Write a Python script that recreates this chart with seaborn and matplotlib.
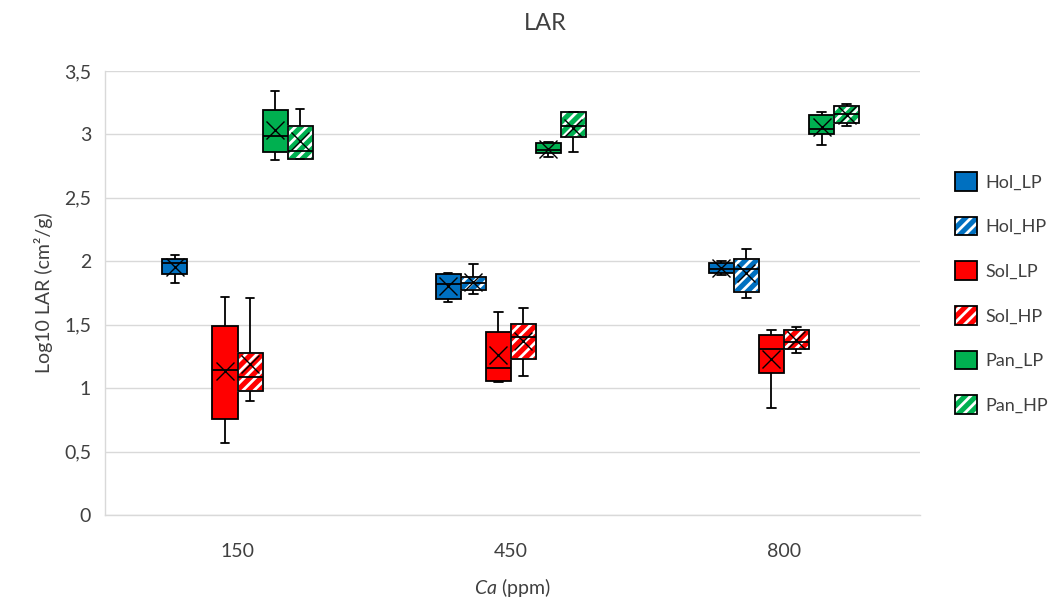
import numpy as np
import pandas as pd
import matplotlib
matplotlib.use("Agg")
import matplotlib.pyplot as plt
import matplotlib.patches as mpatches
from matplotlib.legend_handler import HandlerTuple
import seaborn as sns

# five-number summaries: [min, q1, median, q3, max]
ca_levels = ["150", "450", "800"]
series_names = ["Hol_LP", "Hol_HP", "Sol_LP", "Sol_HP", "Pan_LP", "Pan_HP"]
hol_lp = [[1.83, 1.90, 1.99, 2.02, 2.05], [1.68, 1.70, 1.82, 1.90, 1.91], [1.89, 1.91, 1.94, 1.99, 2.00]]
hol_hp = [None, [1.74, 1.77, 1.83, 1.88, 1.98], [1.71, 1.755, 1.94, 2.02, 2.10]]
sol_lp = [[0.57, 0.76, 1.14, 1.49, 1.72], [1.045, 1.06, 1.155, 1.44, 1.60], [0.84, 1.12, 1.31, 1.42, 1.46]]
sol_hp = [[0.90, 0.98, 1.09, 1.28, 1.71], [1.095, 1.23, 1.40, 1.505, 1.63], [1.28, 1.31, 1.36, 1.46, 1.48]]
pan_lp = [[2.80, 2.86, 2.99, 3.19, 3.34], [2.82, 2.85, 2.88, 2.93, 2.94], [2.92, 3.00, 3.04, 3.15, 3.18]]
pan_hp = [[2.81, 2.81, 2.87, 3.07, 3.20], [2.86, 2.98, 3.07, 3.18, 3.18], [3.065, 3.09, 3.16, 3.225, 3.24]]
series_data = [hol_lp, hol_hp, sol_lp, sol_hp, pan_lp, pan_hp]
colors = ["#0070C0", "#0070C0", "#FF0000", "#FF0000", "#00B050", "#00B050"]
hatched = [False, True, False, True, False, True]
yticks = [0, 0.5, 1, 1.5, 2, 2.5, 3, 3.5]
ytick_labels = ["0", "0,5", "1", "1,5", "2", "2,5", "3", "3,5"]

rows = []
for name, vals in zip(series_names, series_data):
    for ca, summ in zip(ca_levels, vals):
        if summ is None:
            continue
        for v in summ:
            rows.append({"Ca": ca, "series": name, "value": v})
df = pd.DataFrame(rows)

sns.set_style("white")
plt.rcParams["font.family"] = ["Lato", "DejaVu Sans"]
plt.rcParams["mathtext.fontset"] = "custom"
plt.rcParams["mathtext.it"] = "Lato:italic"
plt.rcParams["mathtext.rm"] = "Lato"
plt.rcParams["hatch.linewidth"] = 2.0

fig = plt.figure(figsize=(10.54, 6.05), dpi=100)
ax = fig.add_axes([105 / 1054, 1 - 515 / 605, 815 / 1054, 444 / 605])

sns.boxplot(data=df, x="Ca", y="value", hue="series", order=ca_levels,
            hue_order=series_names, palette=colors, saturation=1,
            width=0.55, gap=0, dodge=True, whis=(0, 100), showmeans=True,
            linecolor="black", linewidth=1.3, legend=False, ax=ax,
            meanprops=dict(marker="x", markeredgecolor="black",
                           markerfacecolor="black", markersize=13,
                           markeredgewidth=1.0))

for i, cont in enumerate(ax.containers):
    for cap in cont.caps:
        xd = cap.get_xdata()
        xc = np.mean(xd)
        cap.set_xdata([xc - 0.016, xc + 0.016])
    if hatched[i]:
        for box in cont.boxes:
            box.set_hatch("///")
            box.set_edgecolor("white")
            outline = mpatches.PathPatch(box.get_path(), transform=box.get_transform(),
                                         fill=False, edgecolor="black", linewidth=1.3,
                                         zorder=box.get_zorder() + 0.1)
            ax.add_patch(outline)

ax.set_xlim(-0.485, 2.498)
ax.set_ylim(0, 3.5)
ax.set_yticks(yticks)
ax.set_yticklabels(ytick_labels)
ax.yaxis.grid(True, color="#d9d9d9", linewidth=1)
ax.set_axisbelow(True)
ax.tick_params(axis="both", length=0, labelsize=14, colors="#404040", pad=10)
ax.tick_params(axis="x", pad=20)
for s in ["top", "right"]:
    ax.spines[s].set_visible(False)
for s in ["left", "bottom"]:
    ax.spines[s].set_color("#d9d9d9")
    ax.spines[s].set_linewidth(1)
ax.set_xlabel(r"$\it{Ca}$ (ppm)", fontsize=14, color="#404040", labelpad=12)
ax.set_ylabel("Log10 LAR (cm²/g)", fontsize=14, color="#404040", labelpad=8)
fig.text(545 / 1054, 1 - 24 / 605, "LAR", ha="center", va="center",
         fontsize=17, color="#404040")

handles = []
for c, h in zip(colors, hatched):
    if h:
        fillp = mpatches.Patch(facecolor=c, edgecolor="white", hatch="///", linewidth=0)
        edgep = mpatches.Patch(facecolor="none", edgecolor="black", linewidth=1.3)
        handles.append((fillp, edgep))
    else:
        handles.append(mpatches.Patch(facecolor=c, edgecolor="black", linewidth=1.3))
leg = fig.legend(handles, series_names, loc="upper left",
                 bbox_to_anchor=(955 / 1054, 1 - 172 / 605), frameon=False,
                 fontsize=13, handlelength=1.2, handleheight=1.2,
                 labelspacing=1.45, handletextpad=0.5, borderpad=0,
                 borderaxespad=0, handler_map={tuple: HandlerTuple(ndivide=1, pad=0)})
for t in leg.get_texts():
    t.set_color("#404040")

fig.savefig("out.png", dpi=100)
